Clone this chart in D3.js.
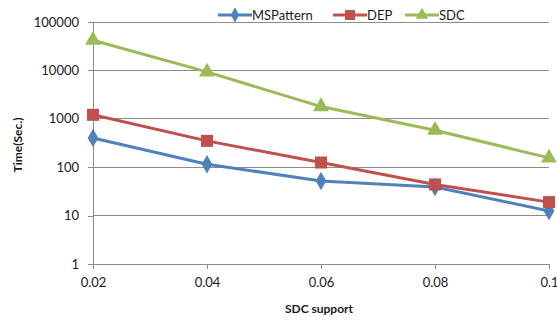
<!DOCTYPE html>
<html>
<head>
<meta charset="utf-8">
<script src="https://cdnjs.cloudflare.com/ajax/libs/d3/7.8.5/d3.min.js"></script>
<style>
body { margin: 0; background: #fff; }
text { font-family: Lato, "Open Sans", sans-serif; fill: #1a1a1a; }
</style>
</head>
<body>
<script>
"use strict";

var supports = [0.02, 0.04, 0.06, 0.08, 0.1];
var xTickLabels = ["0.02", "0.04", "0.06", "0.08", "0.1"];
var yTicks = [1, 10, 100, 1000, 10000, 100000];
var seriesNames = ["MSPattern", "DEP", "SDC"];
var msPattern = [400, 115, 52, 39, 12.5];
var dep = [1210, 350, 125, 44, 19];
var sdc = [42000, 9300, 1790, 580, 156];
var colors = ["#4F81BD", "#C0504D", "#9BBB59"];

var W = 557, H = 322;
var margin = {top: 22, right: 8, bottom: 58, left: 93};
var width = W - margin.left - margin.right,
    height = H - margin.top - margin.bottom;

var svg = d3.select("body").append("svg")
    .attr("width", W)
    .attr("height", H);

var x = d3.scaleLinear().domain([0.02, 0.1]).range([0, width]);
var y = d3.scaleLog().domain([1, 100000]).range([height, 0]);

var g = svg.append("g")
    .attr("transform", "translate(" + margin.left + "," + margin.top + ")");

// horizontal gridlines
g.selectAll("line.grid")
    .data(yTicks.slice(1))
    .enter().append("line")
    .attr("class", "grid")
    .attr("x1", 0).attr("x2", width)
    .attr("y1", function(d) { return y(d); })
    .attr("y2", function(d) { return y(d); })
    .style("stroke", "#8c8c8c")
    .style("stroke-width", 1)
    .attr("shape-rendering", "crispEdges");

// y axis
var yAxis = g.append("g")
    .call(d3.axisLeft(y).tickValues(yTicks).tickFormat(d3.format("d")).tickSize(5).tickPadding(9));
yAxis.selectAll("text").style("font-size", "13px");

// x axis
var xAxis = g.append("g")
    .attr("transform", "translate(0," + height + ")")
    .call(d3.axisBottom(x).tickValues(supports)
        .tickFormat(function(d, i) { return xTickLabels[i]; })
        .tickSize(5).tickPadding(9));
xAxis.selectAll("text").style("font-size", "13px");

svg.selectAll(".domain, .tick line")
    .style("stroke", "#8c8c8c")
    .attr("shape-rendering", "crispEdges");

// series lines and markers
var allSeries = [msPattern, dep, sdc];
var line = d3.line()
    .x(function(d, i) { return x(supports[i]); })
    .y(function(d) { return y(d); });

function drawMarker(sel, type, color, size) {
    if (type === 0) {
        sel.append("path").attr("d", d3.symbol(d3.symbolDiamond, size * 0.9)())
            .style("fill", color);
    } else if (type === 1) {
        sel.append("rect")
            .attr("x", -6).attr("y", -6).attr("width", 12).attr("height", 12)
            .style("fill", color);
    } else {
        sel.append("path").attr("d", d3.symbol(d3.symbolTriangle, size)())
            .style("fill", color);
    }
}

allSeries.forEach(function(values, s) {
    g.append("path")
        .datum(values)
        .attr("d", line)
        .style("fill", "none")
        .style("stroke", colors[s])
        .style("stroke-width", 3)
        .style("stroke-linejoin", "round");
    values.forEach(function(v, i) {
        var m = g.append("g")
            .attr("transform", "translate(" + x(supports[i]) + "," + y(v) + ")");
        drawMarker(m, s, colors[s], 110);
    });
});

// legend
var legendX = [218, 333, 405];
var legend = svg.append("g");
seriesNames.forEach(function(name, s) {
    var lg = legend.append("g").attr("transform", "translate(" + legendX[s] + ",15)");
    lg.append("line")
        .attr("x1", 0).attr("x2", 34)
        .style("stroke", colors[s])
        .style("stroke-width", 3);
    var m = lg.append("g").attr("transform", "translate(17,0)");
    if (s === 1) {
        m.append("rect").attr("x", -5).attr("y", -5).attr("width", 10).attr("height", 10)
            .style("fill", colors[s]);
    } else {
        drawMarker(m, s, colors[s], 70);
    }
    lg.append("text")
        .attr("x", 34)
        .attr("dy", "0.35em")
        .style("font-size", "13px")
        .text(name);
});

// axis titles
svg.append("text")
    .attr("x", margin.left + width / 2 - 2)
    .attr("y", 313)
    .attr("text-anchor", "middle")
    .style("font-size", "12px")
    .style("font-weight", "bold")
    .text("SDC support");

svg.append("text")
    .attr("transform", "translate(22," + (margin.top + height / 2 + 2) + ") rotate(-90)")
    .attr("text-anchor", "middle")
    .style("font-size", "12px")
    .style("font-weight", "bold")
    .text("Time(Sec.)");
</script>
</body>
</html>
